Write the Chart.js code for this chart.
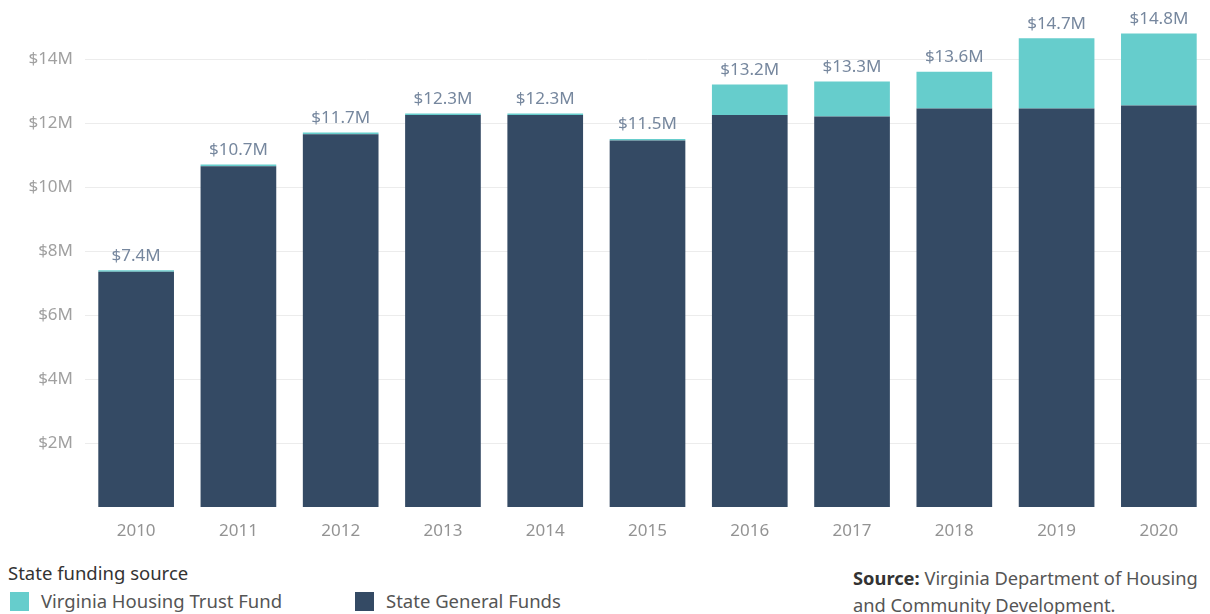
<!DOCTYPE html>
<html>
<head>
<meta charset="utf-8">
<script src="https://cdn.jsdelivr.net/npm/chart.js@4.4.1/dist/chart.umd.min.js"></script>
<style>
  html, body { margin: 0; padding: 0; background: #fff; }
  body { width: 1210px; height: 614px; position: relative; overflow: hidden; font-family: "Noto Sans", "Open Sans", sans-serif; }
  #wrap { position: absolute; left: 0; top: 0; width: 1210px; height: 545px; }
  .legend-title { position: absolute; left: 8px; top: 560px; font-size: 18.5px; color: #333; line-height: 26px; }
  .leg { position: absolute; top: 588px; font-size: 18.5px; color: #555; display: flex; align-items: center; line-height: 26px; }
  .leg .sw { width: 19px; height: 19px; margin-right: 12px; }
  .source { position: absolute; left: 853px; top: 564px; font-size: 18.3px; color: #555; line-height: 27px; white-space: nowrap; }
  .source b { color: #333; }
</style>
</head>
<body>
<div id="wrap"><canvas id="c" width="1210" height="545"></canvas></div>
<div class="legend-title">State funding source</div>
<div class="leg" style="left:10px"><span class="sw" style="background:#66cdcc"></span>Virginia Housing Trust Fund</div>
<div class="leg" style="left:355px"><span class="sw" style="background:#344a64"></span>State General Funds</div>
<div class="source"><b>Source:</b> Virginia Department of Housing<br>and Community Development.</div>
<script>
const years = ["2010","2011","2012","2013","2014","2015","2016","2017","2018","2019","2020"];
const generalFunds = [7.35, 10.65, 11.65, 12.25, 12.25, 11.45, 12.25, 12.2, 12.45, 12.45, 12.55];
const trustFund = [0.05, 0.05, 0.05, 0.05, 0.05, 0.05, 0.95, 1.1, 1.15, 2.2, 2.25];
const totalLabels = ["$7.4M","$10.7M","$11.7M","$12.3M","$12.3M","$11.5M","$13.2M","$13.3M","$13.6M","$14.7M","$14.8M"];
const yTicks = [2, 4, 6, 8, 10, 12, 14];

const FONT = '"Noto Sans", "Open Sans", sans-serif';

const totalsPlugin = {
  id: 'totals',
  afterDatasetsDraw(chart) {
    const ctx = chart.ctx;
    const meta = chart.getDatasetMeta(1);
    ctx.save();
    ctx.font = '17px ' + FONT;
    ctx.fillStyle = '#76879e';
    ctx.textAlign = 'center';
    ctx.textBaseline = 'bottom';
    meta.data.forEach((bar, i) => {
      ctx.fillText(totalLabels[i], bar.x, bar.y - 6);
    });
    ctx.restore();
  }
};

new Chart(document.getElementById('c'), {
  type: 'bar',
  data: {
    labels: years,
    datasets: [
      { label: 'State General Funds', data: generalFunds, backgroundColor: '#344a64', borderWidth: 0 },
      { label: 'Virginia Housing Trust Fund', data: trustFund, backgroundColor: '#66cdcc', borderWidth: 0 }
    ]
  },
  options: {
    responsive: false,
    animation: false,
    maintainAspectRatio: false,
    layout: { padding: { top: 0, right: 0, left: 0, bottom: 0 } },
    plugins: { legend: { display: false }, tooltip: { enabled: false } },
    datasets: { bar: { categoryPercentage: 1.0, barPercentage: 0.74 } },
    scales: {
      x: {
        stacked: true,
        grid: { display: false },
        border: { display: false },
        ticks: { color: '#939393', font: { size: 17, family: FONT }, padding: 6 },
        afterFit(scale) { scale.height = 38; }
      },
      y: {
        stacked: true,
        min: 0,
        max: 15.15,
        border: { display: false },
        grid: { color: '#ececec', lineWidth: 1, drawTicks: false },
        afterBuildTicks(scale) { scale.ticks = yTicks.map(v => ({ value: v })); },
        ticks: {
          color: '#a0a0a0',
          font: { size: 17, family: FONT },
          padding: 12,
          callback: v => '$' + v + 'M'
        },
        afterFit(scale) { scale.width = 85; }
      }
    }
  },
  plugins: [totalsPlugin]
});
</script>
</body>
</html>
